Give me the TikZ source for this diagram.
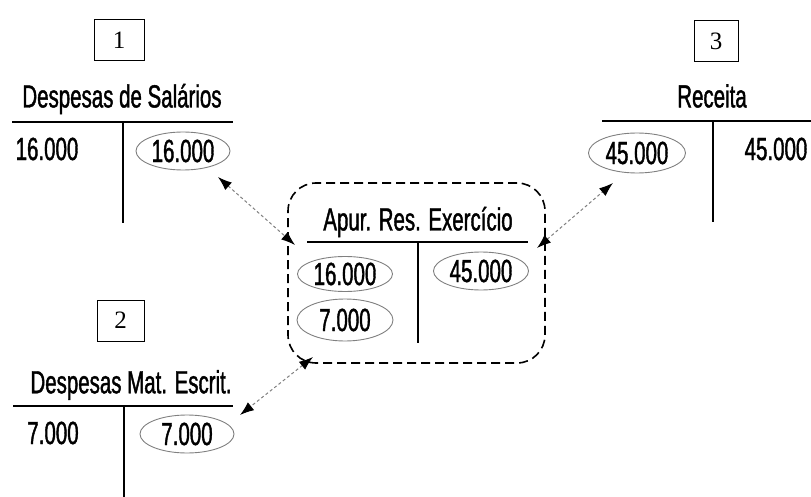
\documentclass[tikz,border=0pt]{standalone}
\usepackage{fontspec}
\setmainfont{Liberation Sans}[FakeStretch=0.64,FakeBold=1.2]
\newfontfamily\boxfont{Liberation Serif}
\usetikzlibrary{arrows.meta,shapes.geometric}
\begin{document}
\begin{tikzpicture}[x=1pt,y=-1pt,
 lbl/.style={font=\fontsize{32}{34}\selectfont, inner sep=0pt},
 circ/.style={ellipse, draw=gray, line width=0.9pt, minimum width=94pt, minimum height=38pt, inner sep=0pt, font=\fontsize{32}{34}\selectfont},
 numbox/.style={draw, line width=1pt, minimum height=41pt, font=\boxfont\fontsize{25}{27}\selectfont, inner sep=0pt},
 tline/.style={line width=2.2pt},
 vline/.style={line width=1.3pt},
 link/.style={gray, line width=1pt, dash pattern=on 3pt off 2.5pt, {Latex[black,length=14pt,width=10pt]}-{Latex[black,length=14pt,width=10pt]}},
 group/.style={draw, rounded corners=28pt, line width=1.6pt, dash pattern=on 9pt off 5pt, minimum width=257pt, minimum height=180pt, inner sep=0pt}]
\useasboundingbox (0,0) rectangle (811,497);

% Box numbers
\node[numbox, minimum width=50pt] (n1) at (119,40.5) {1};
\node[numbox, minimum width=47pt] (n2) at (120.5,320.5) {2};
\node[numbox, minimum width=44pt] (n3) at (716,41) {3};

% Despesas de Salarios
\node[lbl] (t1) at (122,99) {Despesas de Salários};
\coordinate (t1l) at (12,122); \coordinate (t1r) at (233,122);
\draw[tline] (t1l) -- (t1r);
\coordinate (t1v) at (123,122); \coordinate (t1b) at (123,223);
\draw[vline] (t1v) -- (t1b);
\node[lbl] (d1) at (47,149) {16.000};
\node[circ] (c1) at (183,151) {16.000};

% Receita
\node[lbl] (t3) at (712,96) {Receita};
\coordinate (t3l) at (602,121); \coordinate (t3r) at (811,121);
\draw[tline] (t3l) -- (t3r);
\coordinate (t3v) at (713,121); \coordinate (t3b) at (713,222);
\draw[vline] (t3v) -- (t3b);
\node[circ, minimum width=97pt, minimum height=40pt] (c3) at (637,153) {45.000};
\node[lbl] (r3) at (776,149) {45.000};

% Despesas Mat. Escrit.
\node[lbl] (t2) at (131,385) {Despesas Mat. Escrit.};
\coordinate (t2l) at (13,406); \coordinate (t2r) at (233,406);
\draw[tline] (t2l) -- (t2r);
\coordinate (t2v) at (124,406); \coordinate (t2b) at (124,497);
\draw[vline] (t2v) -- (t2b);
\node[lbl] (d2) at (53,433) {7.000};
\node[circ] (c2) at (187,434) {7.000};

% Apuracao
\node[group] (apur) at (416.5,273) {};
\node[lbl] (ta) at (418,222) {Apur. Res. Exercício};
\coordinate (tal) at (307,242); \coordinate (tar) at (528,242);
\draw[tline] (tal) -- (tar);
\coordinate (tav) at (418,242); \coordinate (tab) at (418,343);
\draw[vline] (tav) -- (tab);
\node[circ, minimum width=95pt, minimum height=35pt] (a1) at (345,274) {16.000};
\node[circ, minimum width=96pt, minimum height=42pt] (a2) at (345,320) {7.000};
\node[circ, minimum width=95pt, minimum height=38pt] (a3) at (481,271) {45.000};

% Links
\coordinate (p1s) at (218,177); \coordinate (p1e) at (295,245);
\coordinate (p2s) at (537,248); \coordinate (p2e) at (613,183);
\coordinate (p3s) at (313,357); \coordinate (p3e) at (240,415);
\draw[link] (p1s) -- (p1e);
\draw[link] (p2s) -- (p2e);
\draw[link] (p3s) -- (p3e);
\end{tikzpicture}
\end{document}
